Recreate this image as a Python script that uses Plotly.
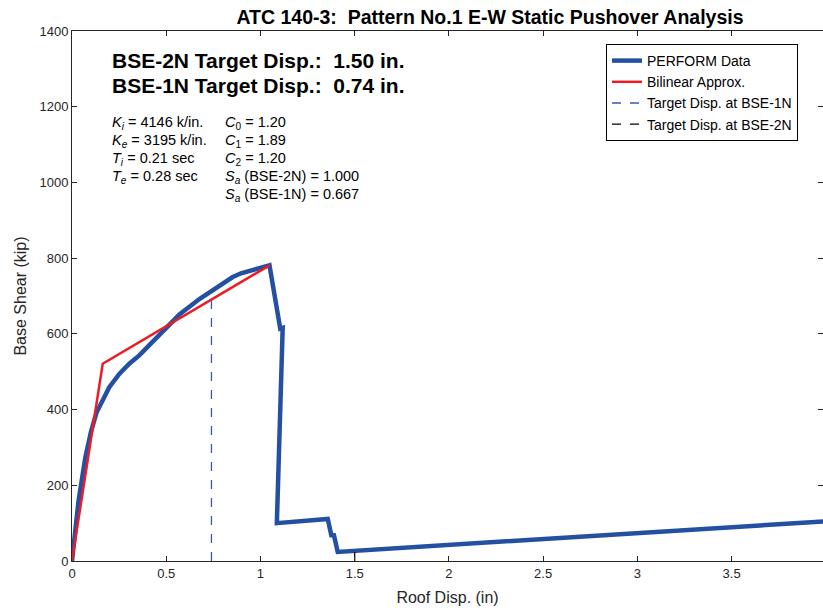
import plotly.graph_objects as go

# PERFORM pushover data (roof disp in, base shear kip)
perform_x = [0.0, 0.035, 0.071, 0.10, 0.13, 0.154, 0.198, 0.251, 0.304, 0.357, 0.428, 0.499,
             0.57, 0.676, 0.747, 0.853, 0.897, 1.048, 1.105, 1.118, 1.087, 1.357, 1.376,
             1.39, 1.41, 4.0]
perform_y = [0, 160, 274, 340, 392, 418, 459, 494, 521, 543, 580, 618,
             651, 692, 716, 750, 760, 781, 614, 616, 100, 111, 68,
             68, 24, 105]

# Bilinear approximation
bilin_x = [0.0, 0.163, 1.048]
bilin_y = [0, 521, 781]

# Target displacements
bse1_x = [0.74, 0.74]
bse1_y = [0, 692]
bse2_x = [1.50, 1.50]
bse2_y = [0, 26]

x_ticks = [0, 0.5, 1, 1.5, 2, 2.5, 3, 3.5, 4]
x_tick_text = ["0", "0.5", "1", "1.5", "2", "2.5", "3", "3.5", "4"]
y_ticks = [0, 200, 400, 600, 800, 1000, 1200, 1400]

W, H = 823, 611
L, R, T, B = 72, 0, 31, 50
pw, ph = W - L - R, H - T - B


def px(x):
    return (x - L) / pw


def py(y):
    return (H - B - y) / ph


BLUE = "rgb(35,80,163)"
RED = "rgb(237,28,36)"
FONT = "Liberation Sans, Arial, sans-serif"
GREY = "rgb(38,38,38)"

fig = go.Figure()
fig.add_trace(go.Scatter(x=perform_x, y=perform_y, mode="lines", name="PERFORM Data",
                         line=dict(color=BLUE, width=4.5)))
fig.add_trace(go.Scatter(x=bilin_x, y=bilin_y, mode="lines", name="Bilinear Approx.",
                         line=dict(color=RED, width=2.5)))
fig.add_trace(go.Scatter(x=bse1_x, y=bse1_y, mode="lines", name="Target Disp. at BSE-1N",
                         line=dict(color="rgb(55,90,175)", width=1.3, dash="dash")))
fig.add_trace(go.Scatter(x=bse2_x, y=bse2_y, mode="lines", name="Target Disp. at BSE-2N",
                         line=dict(color="black", width=1.3, dash="dash")))

axis_common = dict(showline=True, linecolor=GREY, linewidth=1, mirror="ticks",
                   ticks="inside", ticklen=5, tickcolor=GREY, showgrid=False,
                   zeroline=False, tickfont=dict(size=13, color=GREY, family=FONT))

fig.update_xaxes(range=[0, 3.985], tickvals=x_ticks, ticktext=x_tick_text,
                 title=dict(text="Roof Disp. (in)", font=dict(size=16, color=GREY, family=FONT),
                            standoff=12),
                 **axis_common)
fig.update_yaxes(range=[0, 1400], tickvals=y_ticks,
                 title=dict(text="Base Shear (kip)", font=dict(size=16, color=GREY, family=FONT),
                            standoff=8),
                 **axis_common)

anns = []
anns.append(dict(text="<b>BSE-2N Target Disp.:&nbsp; 1.50 in.</b>", x=px(110), y=py(61)))
anns.append(dict(text="<b>BSE-1N Target Disp.:&nbsp; 0.74 in.</b>", x=px(110), y=py(86)))
for a in anns:
    a.update(xref="paper", yref="paper", xanchor="left", yanchor="middle", showarrow=False,
             font=dict(size=21, color="black", family=FONT))

col1 = ["<i>K</i><sub><i>i</i></sub> = 4146 k/in.",
        "<i>K</i><sub><i>e</i></sub> = 3195 k/in.",
        "<i>T</i><sub><i>i</i></sub> = 0.21 sec",
        "<i>T</i><sub><i>e</i></sub> = 0.28 sec"]
col2 = ["<i>C</i><sub>0</sub> = 1.20",
        "<i>C</i><sub>1</sub> = 1.89",
        "<i>C</i><sub>2</sub> = 1.20",
        "<i>S</i><sub><i>a</i></sub> (BSE-2N) = 1.000",
        "<i>S</i><sub><i>a</i></sub> (BSE-1N) = 0.667"]
row_y = [112, 130, 148, 166, 184]
small = []
for i, t in enumerate(col1):
    small.append(dict(text=t, x=px(110), y=py(row_y[i])))
for i, t in enumerate(col2):
    small.append(dict(text=t, x=px(223), y=py(row_y[i])))
for a in small:
    a.update(xref="paper", yref="paper", xanchor="left", yanchor="top", showarrow=False,
             font=dict(size=14.5, color="black", family=FONT))

fig.update_layout(
    width=W, height=H,
    margin=dict(l=L, r=R, t=T, b=B),
    paper_bgcolor="white", plot_bgcolor="white",
    font=dict(family=FONT),
    title=dict(text="<b>ATC 140-3:&nbsp; Pattern No.1 E-W Static Pushover Analysis</b>",
               xref="paper", x=px(490), xanchor="center", y=1 - 17 / H, yanchor="middle",
               font=dict(size=19.5, color="black", family=FONT)),
    legend=dict(x=px(606), y=py(44), xanchor="left", yanchor="top",
                bgcolor="white", bordercolor="black", borderwidth=1,
                font=dict(size=14, color="black", family=FONT),
                tracegroupgap=0),
    annotations=anns + small,
    showlegend=True,
)

fig.write_html("out.html")
